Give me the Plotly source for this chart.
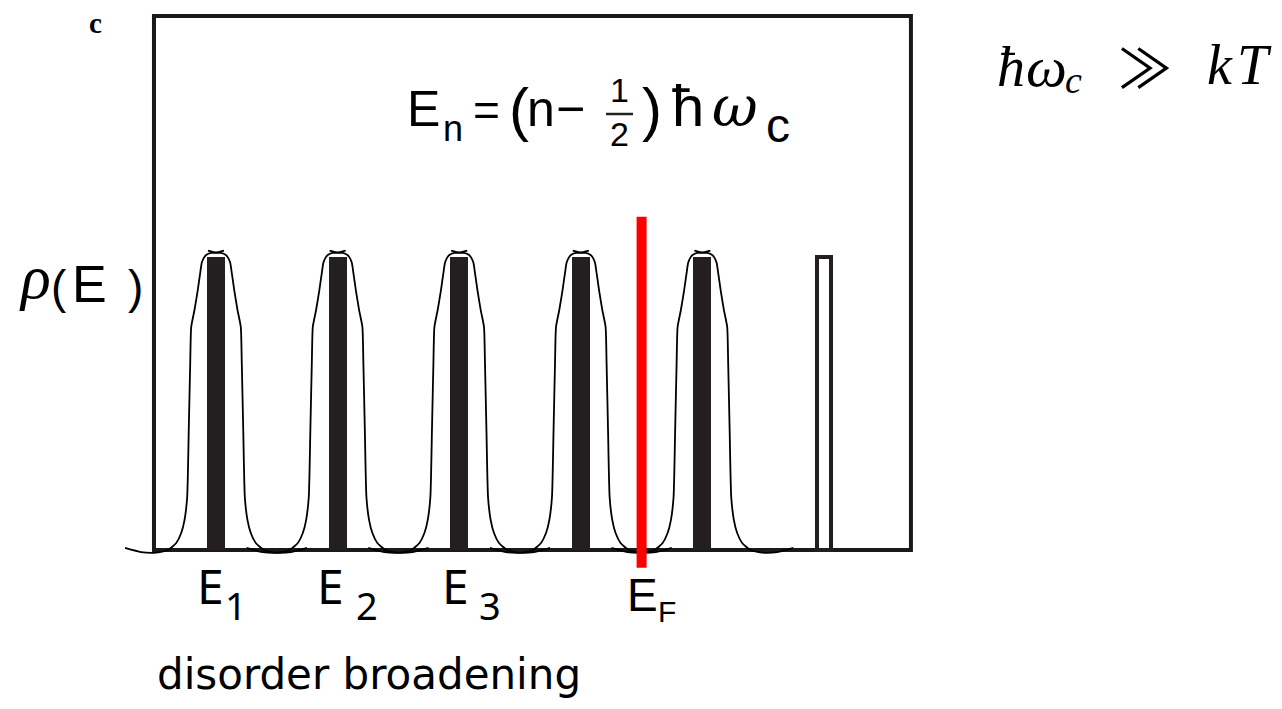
import plotly.graph_objects as go

# page is rendered with an 8px body margin -> figure occupies page px [8, 8+W]
OFF = 8
W, H = 1274, 701

# ---------------- data ----------------
# Landau levels E_n = (n - 1/2) * hbar*omega_c  (x in units of hbar*omega_c)
LEVEL_N = [1, 2, 3, 4, 5, 6]
LEVEL_E = [0.5, 1.5, 2.5, 3.5, 4.5, 5.5]
LEVEL_DOS = [1.0, 1.0, 1.0, 1.0, 1.0, 1.0]
LEVEL_FILLED = [True, True, True, True, True, False]
BROADENED = [True, True, True, True, True, False]
E_FERMI = 4.0

# disorder-broadened level profile (left half;
# offset from level energy in hbar*omega_c, height relative to level DOS)
PROFILE_DX = [-0.748, -0.617, -0.493, -0.395, -0.327, -0.286, -0.259, -0.237,
              -0.224, -0.212, -0.204, -0.177, -0.150, -0.130, -0.117, -0.100,
              -0.081, -0.041, 0.0, 0.066]
PROFILE_H = [0.007, -0.007, -0.009, 0.0, 0.024, 0.058, 0.102, 0.181,
             0.410, 0.638, 0.761, 0.819, 0.887, 0.945, 0.980, 0.997,
             1.007, 1.014, 1.015, 1.022]

TICK_MAIN = ["E", "E", "E"]
TICK_SUB = ["1", "2", "3"]
FERMI_MAIN, FERMI_SUB = "E", "F"
XLABEL = "disorder broadening"
PANEL = "c"

# ---------------- layout constants (page pixels) ----------------
PX_PER_E = 121.6
PX_E05 = 216.0 - OFF
PX_PER_H = 293.0
PX_BASE = 550.0 - OFF
XR = [0.5 - PX_E05 / PX_PER_E, 0.5 + (W - PX_E05) / PX_PER_E]
YR = [-(H - PX_BASE) / PX_PER_H, PX_BASE / PX_PER_H]
FRAME_X = [-0.01, 6.215]
FRAME_TOP = 1.8225
BAR_W = 18 / PX_PER_E
EMPTY_W = 14 / PX_PER_E
FERMI_Y = [-0.061, 1.137]

fig = go.Figure()

# frame
fig.add_shape(type="rect", xref="x", yref="y", x0=FRAME_X[0], x1=FRAME_X[1],
              y0=0, y1=FRAME_TOP, line=dict(color="#1a1a1a", width=4),
              fillcolor="rgba(0,0,0,0)", layer="below")

# sharp Landau levels
fx = [e for e, f in zip(LEVEL_E, LEVEL_FILLED) if f]
fy = [d for d, f in zip(LEVEL_DOS, LEVEL_FILLED) if f]
fig.add_trace(go.Bar(x=fx, y=fy, width=BAR_W, marker=dict(color="#231f20", line=dict(width=0)),
                     showlegend=False, hoverinfo="skip"))
ex = [e for e, f in zip(LEVEL_E, LEVEL_FILLED) if not f]
ey = [d for d, f in zip(LEVEL_DOS, LEVEL_FILLED) if not f]
fig.add_trace(go.Bar(x=ex, y=ey, width=EMPTY_W,
                     marker=dict(color="white", line=dict(color="#231f20", width=4)),
                     showlegend=False, hoverinfo="skip"))

# broadened levels
cx, cy = [], []
for e, d, b in zip(LEVEL_E, LEVEL_DOS, BROADENED):
    if not b:
        continue
    cx += [e + dx for dx in PROFILE_DX] + [None]
    cy += [d * h for h in PROFILE_H] + [None]
    cx += [e - dx for dx in reversed(PROFILE_DX)] + [None]
    cy += [d * h for h in reversed(PROFILE_H)] + [None]
fig.add_trace(go.Scatter(x=cx, y=cy, mode="lines", connectgaps=False,
                         line=dict(color="black", width=1.8, shape="spline", smoothing=0.5),
                         showlegend=False, hoverinfo="skip"))

# Fermi level
fig.add_trace(go.Scatter(x=[E_FERMI, E_FERMI], y=FERMI_Y, mode="lines",
                         line=dict(color="#ff0000", width=10),
                         showlegend=False, hoverinfo="skip"))

DESC = {"Liberation Sans": 0.212, "Liberation Serif": 0.216, "Noto Sans": 0.293,
        "DejaVu Sans": 0.236, "DejaVu Serif": 0.236, "Noto Sans CJK JP": 0.288}


def label(text, x_px, base_px, size, family, xanchor="left", weight="normal",
          style="normal", color="black"):
    """x_px / base_px in page pixels (baseline of the last text line)."""
    fam0 = family.split(",")[0].strip()
    y_px = base_px - OFF + DESC.get(fam0, 0.22) * size + 1
    fig.add_annotation(x=(x_px - OFF) / W, y=1 - y_px / H, xref="paper", yref="paper",
                       xanchor=xanchor, yanchor="bottom", text=text, showarrow=False,
                       font=dict(size=size, family=family, color=color,
                                 weight=weight, style=style))


SANS = "Liberation Sans"
NOTO = "Noto Sans"
SERIF = "Liberation Serif"

# panel letter
label(PANEL, 95, 34, 29, SERIF, xanchor="center", weight="bold")

# rho(E)
label("ρ", 17, 299, 62, SERIF, style="italic")
label("(", 49, 304, 46, SANS)
label("E", 70, 303, 52, SANS)
label(")", 126, 304, 46, SANS)

# E_n = (n - 1/2) hbar omega_c
label("E", 405, 127, 50, SANS)
label("n", 441, 142, 36, SANS)
label("=", 471, 127, 46, SANS)
label("(", 507, 131, 60, SANS)
label("n", 525, 127, 50, SANS)
label("−", 554, 127, 50, SANS)
label("1<br>2", 619, 147, 34, SANS, xanchor="center")
fig.add_shape(type="line", xref="paper", yref="paper", x0=(606 - OFF) / W, x1=(633 - OFF) / W,
              y0=1 - (114 - OFF) / H, y1=1 - (114 - OFF) / H, line=dict(color="#222", width=2.5))
label(")", 640, 131, 60, SANS)
label("ħ", 670, 127, 58, SANS)
label("ω", 710, 127, 56, "DejaVu Serif", style="italic")
label("c", 764, 143, 48, SANS)

# hbar omega_c >> kT
label("ħ", 995, 87, 56, SERIF, style="italic")
label("ω", 1024, 87, 58, SERIF, style="italic")
label("c", 1063, 94, 38, SERIF, style="italic")
label("≫", 1116, 90, 54, "Noto Sans CJK JP")
label("k", 1205, 85, 56, SERIF, style="italic")
label("T", 1235, 85, 56, SERIF, style="italic")

# level labels
TICK_X = [195, 315, 440]
SUB_X = [223, 354, 477]
for m, s, xm, xs in zip(TICK_MAIN, TICK_SUB, TICK_X, SUB_X):
    label(m, xm, 605, 48, NOTO)
    label(s, xs, 621, 38, NOTO)
label(FERMI_MAIN, 625, 612, 46, SANS)
label(FERMI_SUB, 656, 623, 30, SANS)

# bottom caption
label(XLABEL, 155, 690, 42, "DejaVu Sans")

fig.update_layout(
    width=W, height=H, autosize=False,
    margin=dict(l=0, r=0, t=0, b=0),
    paper_bgcolor="white", plot_bgcolor="white",
    barmode="overlay", bargap=0,
    xaxis=dict(range=XR, visible=False, fixedrange=True),
    yaxis=dict(range=YR, visible=False, fixedrange=True),
    showlegend=False,
)

fig.write_html("out.html")
